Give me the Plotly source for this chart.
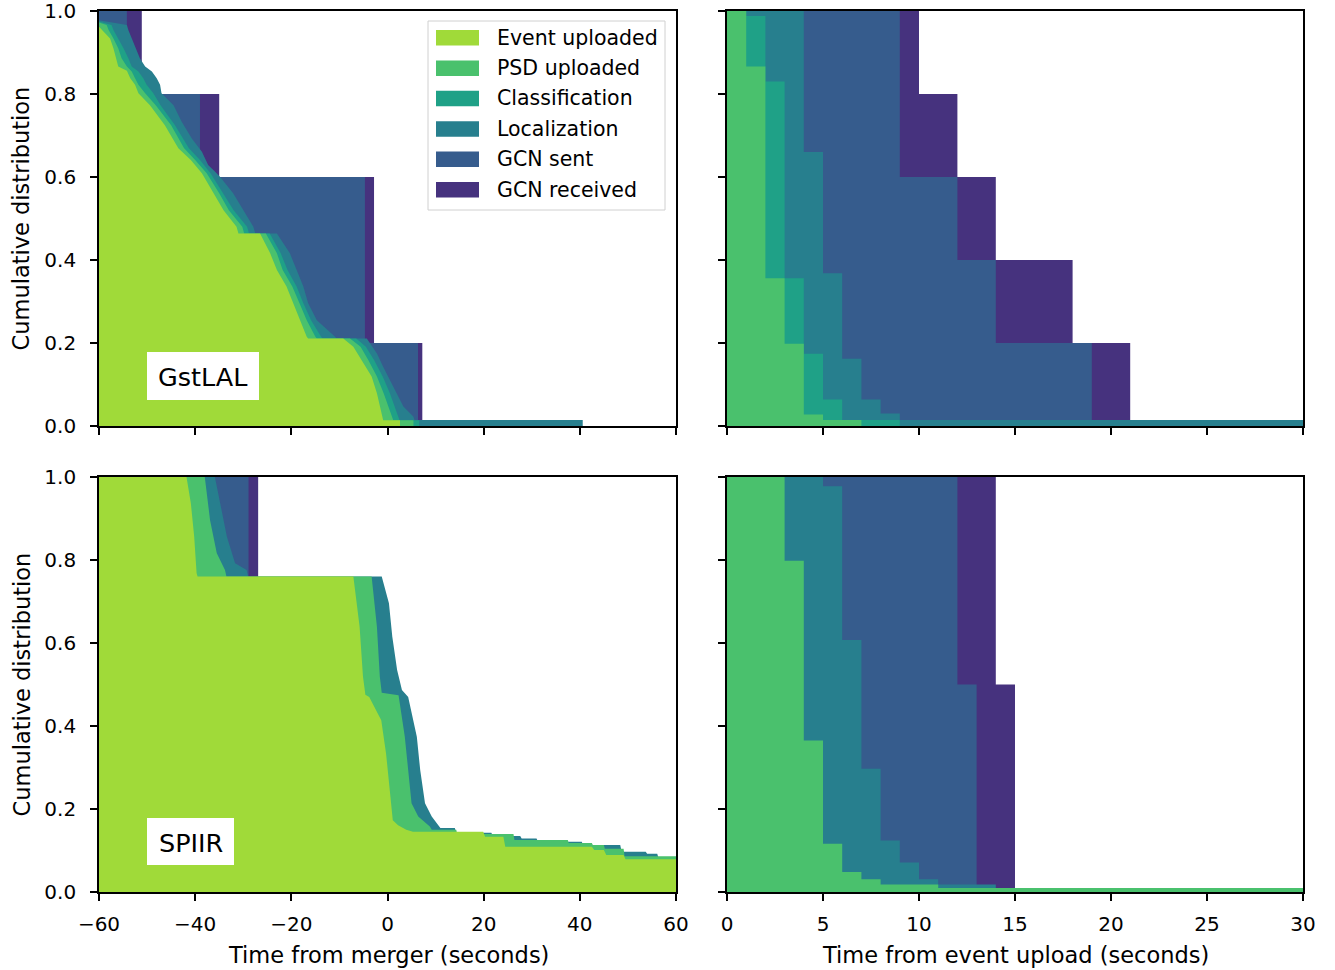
import plotly.graph_objects as go

W, H = 1335, 970

STAGES = ["Event uploaded", "PSD uploaded", "Classification", "Localization", "GCN sent", "GCN received"]
COLORS = {
    "Event uploaded": "#a0da39",
    "PSD uploaded": "#4ac16d",
    "Classification": "#1fa187",
    "Localization": "#277f8e",
    "GCN sent": "#365c8d",
    "GCN received": "#46327e",
}

# ---------------- GstLAL, time from merger (outline vertices: seconds, fraction) ----------------
GST_M_EVENT_T = [-60, -59.4, -57.7, -57.0, -56.5, -56.0, -54.2, -53.5, -52.5, -51.8, -49.4, -46.3, -43.5, -40.9, -38.6, -36.2, -34.1, -31.4, -31.0, -26.5, -24.4, -23.0, -21.0, -19.6, -18.2, -16.8, -16.5, -9.2, -7.1, -5.4, -3.3, -2.2, -1.2, -0.9, 2.6, 2.6]
GST_M_EVENT_F = [0.962, 0.955, 0.934, 0.910, 0.886, 0.866, 0.856, 0.838, 0.822, 0.802, 0.773, 0.725, 0.669, 0.641, 0.609, 0.561, 0.520, 0.480, 0.464, 0.464, 0.416, 0.376, 0.336, 0.296, 0.255, 0.215, 0.211, 0.211, 0.191, 0.159, 0.119, 0.079, 0.031, 0.014, 0.014, 0.0]
GST_M_PSD_T = [-60, -58.4, -58.0, -57.0, -56.0, -55.3, -54.2, -53.2, -52.5, -51.8, -50.4, -48.2, -45.0, -42.3, -40.0, -37.6, -35.0, -33.0, -30.2, -29.8, -25.3, -23.0, -21.8, -19.8, -18.3, -16.8, -15.0, -14.7, -7.8, -5.6, -4.0, -2.2, -0.8, 0.2, 0.8, 1.2, 5.4, 5.4]
GST_M_PSD_F = [0.972, 0.966, 0.954, 0.934, 0.910, 0.886, 0.866, 0.854, 0.838, 0.822, 0.802, 0.773, 0.725, 0.669, 0.641, 0.609, 0.561, 0.520, 0.480, 0.464, 0.464, 0.416, 0.376, 0.336, 0.296, 0.255, 0.215, 0.211, 0.211, 0.191, 0.159, 0.119, 0.079, 0.047, 0.031, 0.014, 0.014, 0.0]
GST_M_CLASS_T = [-60, -57.4, -57.0, -56.0, -54.9, -53.9, -53.2, -51.8, -50.8, -50.1, -48.7, -47.2, -44.2, -41.3, -39.0, -36.8, -34.2, -32.0, -29.2, -28.8, -24.5, -22.2, -20.8, -18.9, -17.5, -15.9, -13.8, -13.5, -6.5, -4.5, -2.8, -1.0, 0.5, 1.5, 2.0, 2.5, 6.6, 6.6]
GST_M_CLASS_F = [0.975, 0.966, 0.954, 0.934, 0.910, 0.886, 0.866, 0.854, 0.838, 0.822, 0.802, 0.773, 0.725, 0.669, 0.641, 0.609, 0.561, 0.520, 0.480, 0.464, 0.464, 0.416, 0.376, 0.336, 0.296, 0.255, 0.215, 0.211, 0.211, 0.191, 0.159, 0.119, 0.079, 0.047, 0.031, 0.014, 0.014, 0.0]
GST_M_LOC_T = [-60, -54.2, -53.9, -53.2, -52.2, -51.5, -50.4, -49.0, -48.0, -47.3, -47.0, -44.5, -42.8, -40.7, -38.6, -37.3, -35.9, -34.8, -32.1, -30.0, -27.9, -27.5, -23.0, -20.3, -18.9, -17.5, -16.5, -14.7, -10.9, -10.6, -4.3, -2.2, -0.9, 0.5, 1.9, 3.3, 5.4, 5.6, 40.6, 40.6]
GST_M_LOC_F = [0.978, 0.966, 0.954, 0.934, 0.910, 0.886, 0.866, 0.854, 0.838, 0.822, 0.802, 0.773, 0.733, 0.693, 0.661, 0.629, 0.613, 0.600, 0.561, 0.520, 0.480, 0.464, 0.464, 0.416, 0.376, 0.336, 0.296, 0.255, 0.215, 0.211, 0.211, 0.175, 0.143, 0.111, 0.079, 0.047, 0.022, 0.0145, 0.0145, 0.0]
# step curves: level F[i] holds until time T[i]
GST_M_SENT_T = [-54.2, -39.0, -4.7, 6.35]
GST_M_SENT_F = [1.0, 0.8, 0.6, 0.2]
GST_M_RECV_T = [-51.1, -35.0, -2.8, 7.24]
GST_M_RECV_F = [1.0, 0.8, 0.6, 0.2]

# ---------------- GstLAL, time from event upload (step curves) ----------------
GST_U_PSD_T = [1, 2, 3, 4, 5, 7]
GST_U_PSD_F = [1.0, 0.866, 0.356, 0.198, 0.028, 0.0145]
GST_U_CLASS_T = [1, 2, 3, 4, 5, 6, 9]
GST_U_CLASS_F = [1.0, 0.988, 0.830, 0.356, 0.174, 0.064, 0.0145]
GST_U_LOC_T = [4, 5, 6, 7, 8, 9, 30]
GST_U_LOC_F = [1.0, 0.660, 0.368, 0.162, 0.064, 0.030, 0.0145]
GST_U_SENT_T = [9, 12, 14, 19]
GST_U_SENT_F = [1.0, 0.6, 0.4, 0.2]
GST_U_RECV_T = [10, 12, 14, 18, 21]
GST_U_RECV_F = [1.0, 0.8, 0.6, 0.4, 0.2]

# ---------------- SPIIR, time from merger (outline vertices) ----------------
SP_M_EVENT_T = [-60, -41.8, -40.9, -40.2, -39.7, -39.5, -7.1, -5.8, -5.1, -4.6, -3.8, -1.3, -0.3, 0.4, 1.1, 2.2, 3.9, 5.3, 19.9, 20.3, 24.1, 24.5, 42.5, 43.0, 45.0, 45.5, 49.1, 49.5, 60]
SP_M_EVENT_F = [1.0, 1.0, 0.937, 0.856, 0.768, 0.760, 0.760, 0.639, 0.519, 0.475, 0.470, 0.414, 0.334, 0.254, 0.173, 0.161, 0.150, 0.145, 0.145, 0.133, 0.133, 0.109, 0.109, 0.101, 0.101, 0.089, 0.089, 0.079, 0.079]
SP_M_PSD_T = [-60, -38.0, -36.9, -35.5, -33.8, -33.5, -3.3, -2.2, -1.6, -1.2, 2.3, 3.6, 4.3, 5.0, 6.4, 8.8, 9.2, 14.3, 14.5, 26.2, 26.4, 37.5, 37.7, 42.5, 42.7, 45.0, 45.2, 49.1, 49.3, 60]
SP_M_PSD_F = [1.0, 1.0, 0.896, 0.816, 0.776, 0.760, 0.760, 0.639, 0.519, 0.480, 0.474, 0.374, 0.294, 0.214, 0.182, 0.158, 0.150, 0.150, 0.140, 0.140, 0.125, 0.125, 0.118, 0.118, 0.113, 0.113, 0.104, 0.104, 0.086, 0.086]
SP_M_LOC_T = [-60, -35.9, -34.8, -33.4, -31.7, -29.3, -29.0, -1.2, 0.3, 1.0, 2.0, 3.0, 4.3, 6.1, 6.8, 7.8, 9.2, 10.6, 11.0, 14.0, 14.3, 21.6, 21.9, 27.6, 27.9, 31.0, 31.3, 40.4, 40.7, 48.4, 48.7, 53.7, 54.0, 56.1, 56.4, 60]
SP_M_LOC_F = [1.0, 1.0, 0.937, 0.856, 0.792, 0.776, 0.760, 0.760, 0.696, 0.615, 0.535, 0.487, 0.470, 0.374, 0.294, 0.214, 0.182, 0.158, 0.154, 0.154, 0.143, 0.143, 0.135, 0.135, 0.129, 0.129, 0.121, 0.121, 0.113, 0.113, 0.097, 0.097, 0.092, 0.092, 0.080, 0.080]
SP_M_SENT_T = [-28.9]
SP_M_SENT_F = [1.0]
SP_M_RECV_T = [-26.9]
SP_M_RECV_F = [1.0]

# ---------------- SPIIR, time from event upload (step curves) ----------------
SP_U_PSD_T = [3, 4, 5, 6, 7, 8, 11, 30]
SP_U_PSD_F = [1.0, 0.798, 0.365, 0.116, 0.048, 0.031, 0.018, 0.0096]
SP_U_LOC_T = [5, 6, 7, 8, 9, 10, 11, 14]
SP_U_LOC_F = [1.0, 0.978, 0.607, 0.297, 0.124, 0.071, 0.031, 0.018]
SP_U_SENT_T = [12, 13]
SP_U_SENT_F = [1.0, 0.5]
SP_U_RECV_T = [14, 15]
SP_U_RECV_F = [1.0, 0.5]

MERGER_TICKS = [-60, -40, -20, 0, 20, 40, 60]
UPLOAD_TICKS = [0, 5, 10, 15, 20, 25, 30]
Y_TICKS = [0.0, 0.2, 0.4, 0.6, 0.8, 1.0]

FONT = "DejaVu Sans"


def px(x):
    return x / W


def py(y):
    return 1 - y / H


fig = go.Figure()


def outline(T, F, stage, ax):
    fig.add_trace(go.Scatter(
        x=T, y=F, mode="lines", line=dict(width=0, shape="linear"),
        fill="tozeroy", fillcolor=COLORS[stage], name=stage,
        showlegend=False, hoverinfo="skip", xaxis="x" + ax, yaxis="y" + ax))


def steps(T, F, stage, ax, xmin):
    fig.add_trace(go.Scatter(
        x=[xmin] + list(T), y=list(F) + [0.0], mode="lines",
        line=dict(width=0, shape="hv"),
        fill="tozeroy", fillcolor=COLORS[stage], name=stage,
        showlegend=False, hoverinfo="skip", xaxis="x" + ax, yaxis="y" + ax))


# top-left: GstLAL vs merger (back to front)
steps(GST_M_RECV_T, GST_M_RECV_F, "GCN received", "", -60)
steps(GST_M_SENT_T, GST_M_SENT_F, "GCN sent", "", -60)
outline(GST_M_LOC_T, GST_M_LOC_F, "Localization", "")
outline(GST_M_CLASS_T, GST_M_CLASS_F, "Classification", "")
outline(GST_M_PSD_T, GST_M_PSD_F, "PSD uploaded", "")
outline(GST_M_EVENT_T, GST_M_EVENT_F, "Event uploaded", "")

# top-right: GstLAL vs upload
steps(GST_U_RECV_T, GST_U_RECV_F, "GCN received", "2", 0)
steps(GST_U_SENT_T, GST_U_SENT_F, "GCN sent", "2", 0)
steps(GST_U_LOC_T, GST_U_LOC_F, "Localization", "2", 0)
steps(GST_U_CLASS_T, GST_U_CLASS_F, "Classification", "2", 0)
steps(GST_U_PSD_T, GST_U_PSD_F, "PSD uploaded", "2", 0)

# bottom-left: SPIIR vs merger
steps(SP_M_RECV_T, SP_M_RECV_F, "GCN received", "3", -60)
steps(SP_M_SENT_T, SP_M_SENT_F, "GCN sent", "3", -60)
outline(SP_M_LOC_T, SP_M_LOC_F, "Localization", "3")
outline(SP_M_PSD_T, SP_M_PSD_F, "PSD uploaded", "3")
outline(SP_M_EVENT_T, SP_M_EVENT_F, "Event uploaded", "3")

# bottom-right: SPIIR vs upload
steps(SP_U_RECV_T, SP_U_RECV_F, "GCN received", "4", 0)
steps(SP_U_SENT_T, SP_U_SENT_F, "GCN sent", "4", 0)
steps(SP_U_LOC_T, SP_U_LOC_F, "Localization", "4", 0)
steps(SP_U_PSD_T, SP_U_PSD_F, "PSD uploaded", "4", 0)

LW = 1.7
axis_common = dict(showline=True, mirror=True, linecolor="black", linewidth=LW,
                   ticks="outside", ticklen=7, tickwidth=LW, tickcolor="black",
                   showgrid=False, zeroline=False, automargin=False,
                   ticklabeloverflow="allow",
                   tickfont=dict(family=FONT, size=20, color="black"))
x_common = dict(ticklabelstandoff=6, **axis_common)
y_common = dict(ticklabelstandoff=10, **axis_common)

XL = [px(99), px(676)]
XR = [px(727), px(1303)]
YT = [py(426), py(11)]
YB = [py(892), py(477)]

fig.update_layout(
    width=W, height=H, margin=dict(l=0, r=0, t=0, b=0, autoexpand=False),
    paper_bgcolor="white", plot_bgcolor="white", showlegend=False,
    font=dict(family=FONT, color="black"),
    xaxis=dict(domain=XL, anchor="y", range=[-60, 60], tickvals=MERGER_TICKS, showticklabels=False, **x_common),
    yaxis=dict(domain=YT, anchor="x", range=[0, 1], tickvals=Y_TICKS, tickformat=".1f", **y_common),
    xaxis2=dict(domain=XR, anchor="y2", range=[0, 30], tickvals=UPLOAD_TICKS, showticklabels=False, **x_common),
    yaxis2=dict(domain=YT, anchor="x2", range=[0, 1], tickvals=Y_TICKS, showticklabels=False, **y_common),
    xaxis3=dict(domain=XL, anchor="y3", range=[-60, 60], tickvals=MERGER_TICKS, **x_common),
    yaxis3=dict(domain=YB, anchor="x3", range=[0, 1], tickvals=Y_TICKS, tickformat=".1f", **y_common),
    xaxis4=dict(domain=XR, anchor="y4", range=[0, 30], tickvals=UPLOAD_TICKS, **x_common),
    yaxis4=dict(domain=YB, anchor="x4", range=[0, 1], tickvals=Y_TICKS, showticklabels=False, **y_common),
)

shapes = []
annotations = []

# axis titles
for yc in (218.5, 684.5):
    annotations.append(dict(text="Cumulative distribution", x=px(21), y=py(yc), xref="paper", yref="paper",
                            textangle=-90, showarrow=False, xanchor="center", yanchor="middle",
                            font=dict(family=FONT, size=22.5, color="black")))
annotations.append(dict(text="Time from merger (seconds)", x=px(388), y=py(955), xref="paper", yref="paper",
                        showarrow=False, xanchor="center", yanchor="middle",
                        font=dict(family=FONT, size=22.5, color="black")))
annotations.append(dict(text="Time from event upload (seconds)", x=px(1015), y=py(955), xref="paper", yref="paper",
                        showarrow=False, xanchor="center", yanchor="middle",
                        font=dict(family=FONT, size=22.5, color="black")))

# pipeline labels in white boxes
for label, (x0, y0, x1, y1) in (("GstLAL", (147, 352, 259, 400)), ("SPIIR", (147, 818, 234, 865))):
    shapes.append(dict(type="rect", xref="paper", yref="paper", x0=px(x0), x1=px(x1), y0=py(y1), y1=py(y0),
                       fillcolor="white", line=dict(width=0), layer="above"))
    annotations.append(dict(text=label, x=px((x0 + x1) / 2), y=py((y0 + y1) / 2 + 1), xref="paper", yref="paper",
                            showarrow=False, xanchor="center", yanchor="middle",
                            font=dict(family=FONT, size=25.5, color="black")))

# legend (top-left panel)
shapes.append(dict(type="rect", xref="paper", yref="paper", x0=px(428), x1=px(665), y0=py(210), y1=py(21),
                   fillcolor="rgba(255,255,255,0.8)", line=dict(color="#d0d0d0", width=1), layer="above"))
row_y = [37.8, 68.3, 98.5, 129.0, 159.3, 189.8]
for stage, yc in zip(STAGES, row_y):
    shapes.append(dict(type="rect", xref="paper", yref="paper", x0=px(436), x1=px(479),
                       y0=py(yc + 7.8), y1=py(yc - 7.8), fillcolor=COLORS[stage],
                       line=dict(width=0), layer="above"))
    annotations.append(dict(text=stage, x=px(495), y=py(yc), xref="paper", yref="paper",
                            showarrow=False, xanchor="left", yanchor="middle",
                            font=dict(family=FONT, size=20.5, color="black")))

fig.update_layout(shapes=shapes, annotations=annotations)

fig.write_html("out.html")
